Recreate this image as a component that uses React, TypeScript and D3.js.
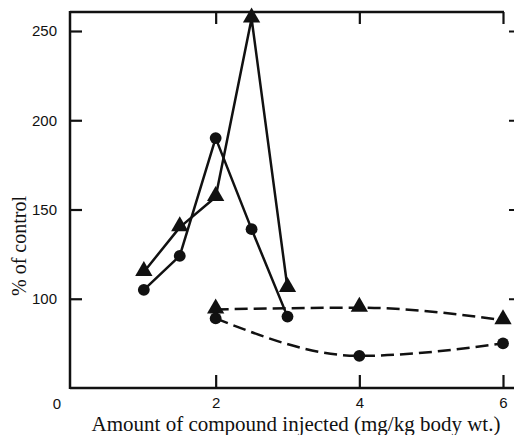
import React, { useRef, useEffect } from 'react';
import * as d3 from 'd3';

// Doses (mg/kg body wt.)
const solidDoses = [1.0, 1.5, 2.0, 2.5, 3.0];
const dashedDoses = [2.0, 4.0, 6.0];

// % of control
const solidTriangle = [115, 140, 157, 257, 106];
const solidCircle = [105, 124, 190, 139, 90];
const dashedTriangle = [94, 95, 88];
const dashedCircle = [89, 68, 75];

const xTicks = [2, 4, 6];
const yTicks = [100, 150, 200, 250];

const W = 514;
const H = 435;

type Pt = { x: number; v: number };

const zip = (xs: number[], vs: number[]): Pt[] => xs.map((x, i) => ({ x, v: vs[i] }));

const App = () => {
  const ref = useRef<SVGSVGElement>(null);

  useEffect(() => {
    const svg = d3.select(ref.current);
    svg.selectAll('*').remove();

    const left = 70;
    const right = 503;
    const top = 12;
    const bottom = 388;

    const x = d3.scaleLinear().domain([0, 6]).range([72, 503]);
    const y = d3.scaleLinear().domain([50, 250]).range([bottom, 31]);

    const ink = '#111';
    const sans = '"Liberation Sans", Arial, sans-serif';
    const serif = '"Liberation Serif", "Times New Roman", serif';

    // frame lines
    svg.append('line')
      .attr('x1', left).attr('x2', left).attr('y1', top - 1).attr('y2', bottom + 1)
      .attr('stroke', ink).attr('stroke-width', 2.5);
    svg.append('line')
      .attr('x1', left).attr('x2', W).attr('y1', bottom).attr('y2', bottom)
      .attr('stroke', ink).attr('stroke-width', 2.5);
    svg.append('line')
      .attr('x1', left).attr('x2', right + 1).attr('y1', top).attr('y2', top)
      .attr('stroke', ink).attr('stroke-width', 2.5);

    // left axis
    const yAxis = svg.append('g')
      .attr('transform', `translate(${left},0)`)
      .call(d3.axisLeft(y).tickValues(yTicks).tickSize(-12).tickPadding(13).tickFormat(d3.format('d')));
    yAxis.select('.domain').remove();
    yAxis.selectAll('line').attr('stroke', ink).attr('stroke-width', 2.2);
    yAxis.selectAll('text')
      .attr('font-family', sans)
      .attr('font-size', 15)
      .attr('fill', ink);

    // right ticks
    const yRight = svg.append('g')
      .attr('transform', `translate(${W},0)`)
      .call(d3.axisRight(y).tickValues(yTicks).tickSize(-5).tickFormat(() => ''));
    yRight.select('.domain').remove();
    yRight.selectAll('line').attr('stroke', ink).attr('stroke-width', 2);

    // bottom axis
    const xAxis = svg.append('g')
      .attr('transform', `translate(0,${bottom})`)
      .call(d3.axisBottom(x).tickValues(xTicks).tickSize(-13).tickPadding(9).tickFormat(d3.format('d')));
    xAxis.select('.domain').remove();
    xAxis.selectAll('line').attr('stroke', ink).attr('stroke-width', 2.2);
    xAxis.selectAll('text')
      .attr('font-family', sans)
      .attr('font-size', 15)
      .attr('fill', ink);

    // top ticks
    const xTop = svg.append('g')
      .attr('transform', `translate(0,${top})`)
      .call(d3.axisTop(x).tickValues(xTicks).tickSize(-12).tickFormat(() => ''));
    xTop.select('.domain').remove();
    xTop.selectAll('line').attr('stroke', ink).attr('stroke-width', 2.2);

    // origin label
    svg.append('text')
      .attr('x', 57).attr('y', 409)
      .attr('text-anchor', 'middle')
      .attr('font-family', sans)
      .attr('font-size', 15)
      .attr('fill', ink)
      .text('0');

    // axis titles
    svg.append('text')
      .attr('x', 296).attr('y', 431)
      .attr('text-anchor', 'middle')
      .attr('font-family', serif)
      .attr('font-size', 21)
      .attr('fill', ink)
      .text('Amount of compound injected (mg/kg body wt.)');

    svg.append('text')
      .attr('transform', 'rotate(-90)')
      .attr('x', -246).attr('y', 26)
      .attr('text-anchor', 'middle')
      .attr('font-family', serif)
      .attr('font-size', 20)
      .attr('fill', ink)
      .text('% of control');

    const solidLine = d3.line<Pt>()
      .x(d => x(d.x))
      .y(d => y(d.v))
      .curve(d3.curveLinear);

    const dashedLine = d3.line<Pt>()
      .x(d => x(d.x))
      .y(d => y(d.v))
      .curve(d3.curveMonotoneX);

    const series = [
      { pts: zip(solidDoses, solidTriangle), shape: 'tri', dash: null, gen: solidLine },
      { pts: zip(solidDoses, solidCircle), shape: 'dot', dash: null, gen: solidLine },
      { pts: zip(dashedDoses, dashedTriangle), shape: 'tri', dash: '13,6', gen: dashedLine },
      { pts: zip(dashedDoses, dashedCircle), shape: 'dot', dash: '13,6', gen: dashedLine },
    ];

    series.forEach(s => {
      svg.append('path')
        .datum(s.pts)
        .attr('fill', 'none')
        .attr('stroke', ink)
        .attr('stroke-width', 2.5)
        .attr('stroke-linejoin', 'round')
        .attr('stroke-dasharray', s.dash)
        .attr('d', s.gen);

      const sym = d3.symbol()
        .type(s.shape === 'tri' ? d3.symbolTriangle : d3.symbolCircle)
        .size(s.shape === 'tri' ? 130 : 110);

      svg.selectAll(null)
        .data(s.pts)
        .enter()
        .append('path')
        .attr('d', sym)
        .attr('transform', d => `translate(${x(d.x)},${y(d.v) + (s.shape === 'tri' ? -1 : 0)})`)
        .attr('fill', ink);
    });
  }, []);

  return (
    <svg
      ref={ref}
      width={W}
      height={H}
      style={{ position: 'absolute', left: 0, top: 0, background: '#fff' }}
    />
  );
};

export default App;
